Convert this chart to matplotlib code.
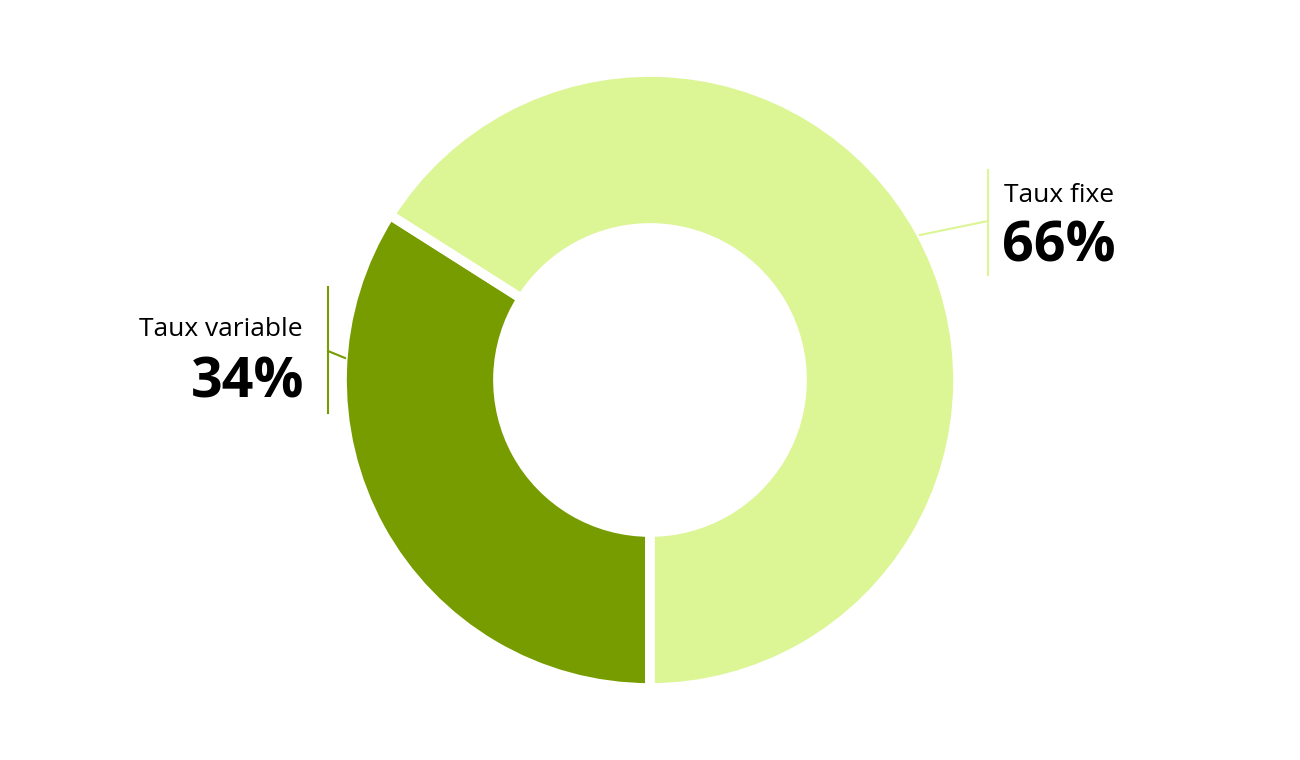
import matplotlib.pyplot as plt

# Répartition des prêts
labels = ['Taux variable', 'Taux fixe']
values = [34, 66]
colors = ['#779c00', '#dcf595']

plt.rcParams['font.family'] = ['Open Sans', 'DejaVu Sans']

fig = plt.figure(figsize=(13, 7.6), dpi=100)
ax = fig.add_axes([0, 0, 1, 1])
ax.set_xlim(0, 1300)
ax.set_ylim(0, 760)
ax.set_aspect('equal')
ax.axis('off')

# donut, centre et rayon en pixels
cx, cy, r = 650, 380, 308
ax.pie(values, colors=colors, startangle=-90, counterclock=False,
       center=(cx, cy), radius=r,
       wedgeprops=dict(width=156, edgecolor='white', linewidth=7))
ax.set_xlim(0, 1300)
ax.set_ylim(0, 760)

# Taux fixe (droite)
ax.plot([920, 988], [760 - 235, 760 - 221], color=colors[1], lw=1.5)
ax.plot([988, 988], [760 - 170, 760 - 275], color=colors[1], lw=1.5)
ax.text(1004, 760 - 202, labels[1], fontsize=19, ha='left', va='baseline')
ax.text(1002, 760 - 262, f'{values[1]}%', fontsize=40, fontweight='bold',
        ha='left', va='baseline')

# Taux variable (gauche)
ax.plot([345, 328], [760 - 358, 760 - 351], color=colors[0], lw=1.5)
ax.plot([328, 328], [760 - 287, 760 - 413], color=colors[0], lw=1.5)
ax.text(303, 760 - 336, labels[0], fontsize=19, ha='right', va='baseline')
ax.text(304, 760 - 398, f'{values[0]}%', fontsize=40, fontweight='bold',
        ha='right', va='baseline')

fig.savefig('out.png', dpi=100)
